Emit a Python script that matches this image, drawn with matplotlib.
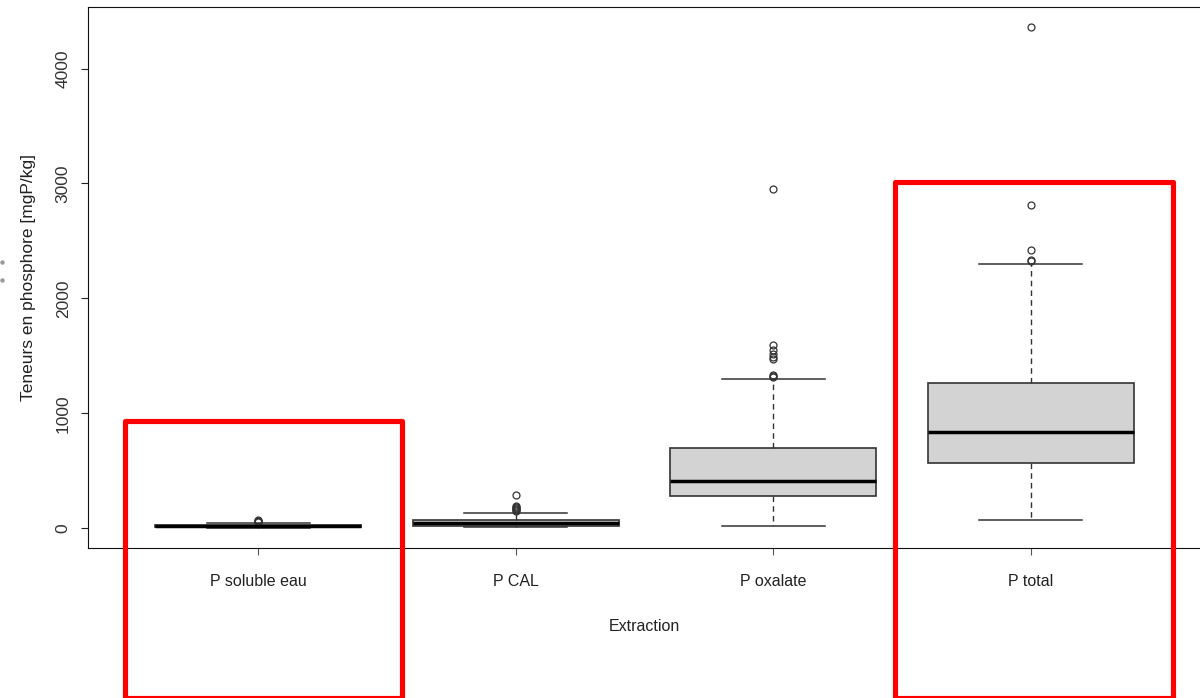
import matplotlib
matplotlib.use("Agg")
import matplotlib.pyplot as plt
from matplotlib.patches import Rectangle
from matplotlib.lines import Line2D

# Phosphorus content by extraction method (mgP/kg)
categories = ["P soluble eau", "P CAL", "P oxalate", "P total"]
whisker_low = [1, 6, 17, 73]
q1 = [8, 22, 278, 565]
medians = [16, 45, 411, 837]
q3 = [27, 68, 693, 1264]
whisker_high = [47, 133, 1298, 2296]
outliers = [
    [55, 60, 64, 70],
    [145, 155, 165, 175, 185, 192, 290],
    [1315, 1325, 1337, 1470, 1490, 1513, 1553, 1591, 2948],
    [2325, 2335, 2417, 2817, 4362],
]

ylabel = "Teneurs en phosphore [mgP/kg]"
xlabel = "Extraction"
yticks = [0, 1000, 2000, 3000, 4000]

plt.rcParams["font.family"] = ["Liberation Sans", "DejaVu Sans"]

W, H = 1200, 698
fig = plt.figure(figsize=(W / 100, H / 100), dpi=100)
ax = fig.add_axes([88 / W, 1 - 548 / H, (1201 - 88) / W, (548 - 7) / H])

stats = []
for i, name in enumerate(categories):
    stats.append(dict(label=name, whislo=whisker_low[i], q1=q1[i], med=medians[i],
                      q3=q3[i], whishi=whisker_high[i], fliers=outliers[i]))

edge = "#333333"
ax.bxp(stats, positions=[1, 2, 3, 4], widths=0.8, capwidths=0.4,
       patch_artist=True, showfliers=True,
       boxprops=dict(facecolor="#d3d3d3", edgecolor=edge, linewidth=1.2),
       medianprops=dict(color="black", linewidth=2.5, solid_capstyle="butt"),
       whiskerprops=dict(color=edge, linewidth=1.0, linestyle=(0, (4, 3))),
       capprops=dict(color=edge, linewidth=1.1),
       flierprops=dict(marker="o", markersize=5, markerfacecolor="none",
                       markeredgecolor=edge, markeredgewidth=0.9))

# R-style limits: 4% padding around data range and category range
all_vals = whisker_low + whisker_high + [v for f in outliers for v in f]
lo, hi = min(all_vals), max(all_vals)
pad = 0.04 * (hi - lo)
ax.set_ylim(lo - pad, hi + pad)
ax.set_xlim(0.5 - 0.04 * 4, 4.5 + 0.04 * 4)

ax.set_yticks(yticks)
ax.set_yticklabels([str(v) for v in yticks], rotation=90, va="center", fontsize=12.5)
ax.set_xticks([1, 2, 3, 4])
ax.set_xticklabels(categories, fontsize=11.5, color="#222222")
ax.tick_params(axis="y", length=5, width=0.8, color="#222222", pad=7.5, labelcolor="#333333")
ax.tick_params(axis="x", length=5, width=0.8, color="#555555", pad=14)

ax.set_xlabel(xlabel, fontsize=11.5, color="#222222", labelpad=21)
ax.set_ylabel(ylabel, fontsize=12.5, color="#222222")
ax.yaxis.set_label_coords((36 - 88) / 1113, 0.5)

for s in ax.spines.values():
    s.set_linewidth(0.8)
    s.set_color("#111111")

# red highlight frames
def frame(x0, x1, ytop, ybot):
    r = Rectangle((x0 / W, 1 - ybot / H), (x1 - x0) / W, (ybot - ytop) / H,
                  transform=fig.transFigure, fill=False, edgecolor="#ff0000",
                  linewidth=3.7, joinstyle="round", clip_on=False)
    fig.add_artist(r)

frame(124.5, 402, 420.5, 697.5)
frame(895, 1172.5, 181.5, 697.5)

fig.add_artist(Line2D([2 / W, 2 / W], [1 - 262 / H, 1 - 280 / H], transform=fig.transFigure,
                      linestyle="none", marker="o", markersize=3.2, color="#9a9a9a",
                      markeredgewidth=0))

fig.savefig("out.png", dpi=100)
